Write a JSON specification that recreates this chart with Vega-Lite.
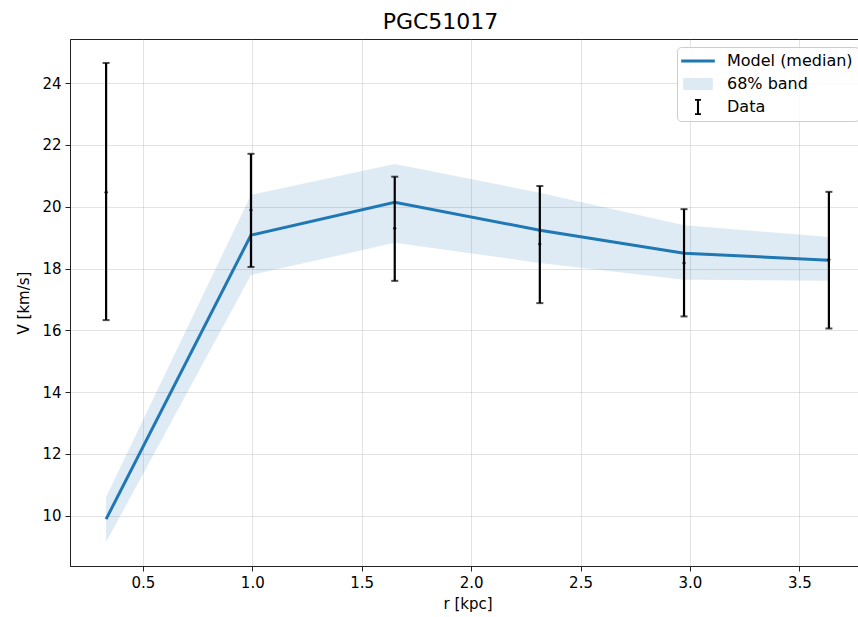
{
  "$schema": "https://vega.github.io/schema/vega-lite/v6.json",
  "width": 795,
  "height": 527,
  "autosize": {"type": "none"},
  "padding": {"left": 70, "top": 39, "right": 0, "bottom": 51},
  "background": "white",
  "config": {
    "font": "DejaVu Sans",
    "view": {"stroke": "#222222", "strokeWidth": 1},
    "axis": {
      "labelFont": "DejaVu Sans",
      "labelFontSize": 15,
      "labelColor": "#000000",
      "titleFont": "DejaVu Sans",
      "titleFontSize": 15,
      "titleFontWeight": "normal",
      "titleColor": "#000000",
      "tickColor": "#222222",
      "tickSize": 5,
      "domainColor": "#222222",
      "grid": true,
      "gridColor": "#b0b0b0",
      "gridOpacity": 0.35,
      "labelPadding": 4
    }
  },
  "title": {
    "text": "PGC51017",
    "font": "DejaVu Sans",
    "fontSize": 22,
    "fontWeight": "normal",
    "color": "#000000",
    "anchor": "middle",
    "dx": -27,
    "offset": 5
  },
  "data": {
    "values": [
      {"r": 0.332, "v": 20.47, "lo": 16.33, "hi": 24.65, "model": 9.89, "band_lo": 9.15, "band_hi": 10.61},
      {"r": 0.994, "v": 19.89, "lo": 18.05, "hi": 21.71, "model": 19.08, "band_lo": 17.79, "band_hi": 20.38},
      {"r": 1.651, "v": 19.30, "lo": 17.60, "hi": 20.97, "model": 20.14, "band_lo": 18.83, "band_hi": 21.38},
      {"r": 2.314, "v": 18.79, "lo": 16.88, "hi": 20.67, "model": 19.24, "band_lo": 18.18, "band_hi": 20.45},
      {"r": 2.973, "v": 18.18, "lo": 16.45, "hi": 19.92, "model": 18.49, "band_lo": 17.64, "band_hi": 19.40},
      {"r": 3.635, "v": 18.29, "lo": 16.06, "hi": 20.48, "model": 18.27, "band_lo": 17.60, "band_hi": 19.02}
    ]
  },
  "encoding": {
    "x": {
      "field": "r",
      "type": "quantitative",
      "scale": {"domain": [0.167, 3.8], "nice": false, "zero": false},
      "axis": {"title": "r [kpc]", "values": [0.5, 1, 1.5, 2, 2.5, 3, 3.5], "format": ".1f", "titlePadding": 6}
    }
  },
  "layer": [
    {
      "mark": {"type": "area", "color": "#1f77b4", "opacity": 0.15},
      "encoding": {
        "y": {
          "field": "band_lo",
          "type": "quantitative",
          "scale": {"domain": [8.375, 25.425], "nice": false, "zero": false},
          "axis": {"title": "V [km/s]", "values": [10, 12, 14, 16, 18, 20, 22, 24], "format": "d", "titlePadding": 10}
        },
        "y2": {"field": "band_hi"}
      }
    },
    {
      "mark": {"type": "line", "color": "#1f77b4", "strokeWidth": 3},
      "encoding": {
        "y": {"field": "model", "type": "quantitative"}
      }
    },
    {
      "mark": {"type": "rule", "color": "#000000", "strokeWidth": 2.2},
      "encoding": {
        "y": {"field": "lo", "type": "quantitative"},
        "y2": {"field": "hi"}
      }
    },
    {
      "mark": {"type": "tick", "color": "#000000", "orient": "horizontal", "size": 7, "thickness": 2},
      "encoding": {
        "y": {"field": "lo", "type": "quantitative"}
      }
    },
    {
      "mark": {"type": "tick", "color": "#000000", "orient": "horizontal", "size": 7, "thickness": 2},
      "encoding": {
        "y": {"field": "hi", "type": "quantitative"}
      }
    },
    {
      "mark": {"type": "point", "color": "#000000", "filled": true, "size": 10, "opacity": 1},
      "encoding": {
        "y": {"field": "v", "type": "quantitative"}
      }
    },
    {
      "mark": {"type": "point", "filled": true, "opacity": 0, "size": 0},
      "encoding": {
        "y": {"field": "v", "type": "quantitative"},
        "color": {
          "datum": "Data",
          "scale": {
            "domain": ["Model (median)", "68% band", "Data"],
            "range": ["#1f77b4", "#dde9f3", "#000000"]
          },
          "legend": {
            "title": null,
            "orient": "none",
            "legendX": 607,
            "legendY": 8,
            "labelFont": "DejaVu Sans",
            "labelFontSize": 16,
            "labelColor": "#000000",
            "symbolSize": 256,
            "symbolOpacity": 1,
            "symbolStrokeWidth": 0,
            "symbolOffset": 7,
            "labelOffset": 21,
            "rowPadding": 7,
            "padding": 6,
            "strokeColor": "#cccccc",
            "fillColor": "rgba(255,255,255,0.85)",
            "cornerRadius": 4
          }
        },
        "shape": {
          "datum": "Data",
          "scale": {
            "domain": ["Model (median)", "68% band", "Data"],
            "range": [
              "M-2.1,-0.19L2.1,-0.19L2.1,0.19L-2.1,0.19Z",
              "M-1.85,-0.75L1.85,-0.75L1.85,0.75L-1.85,0.75Z",
              "M-0.375,-1L0.375,-1L0.375,-0.78L0.13,-0.78L0.13,0.78L0.375,0.78L0.375,1L-0.375,1L-0.375,0.78L-0.13,0.78L-0.13,-0.78L-0.375,-0.78Z"
            ]
          },
          "legend": {
            "title": null,
            "orient": "none",
            "legendX": 607,
            "legendY": 8,
            "labelFont": "DejaVu Sans",
            "labelFontSize": 16,
            "labelColor": "#000000",
            "symbolSize": 256,
            "symbolOpacity": 1,
            "symbolStrokeWidth": 0,
            "symbolOffset": 7,
            "labelOffset": 21,
            "rowPadding": 7,
            "padding": 6,
            "strokeColor": "#cccccc",
            "fillColor": "rgba(255,255,255,0.85)",
            "cornerRadius": 4
          }
        }
      }
    }
  ]
}
